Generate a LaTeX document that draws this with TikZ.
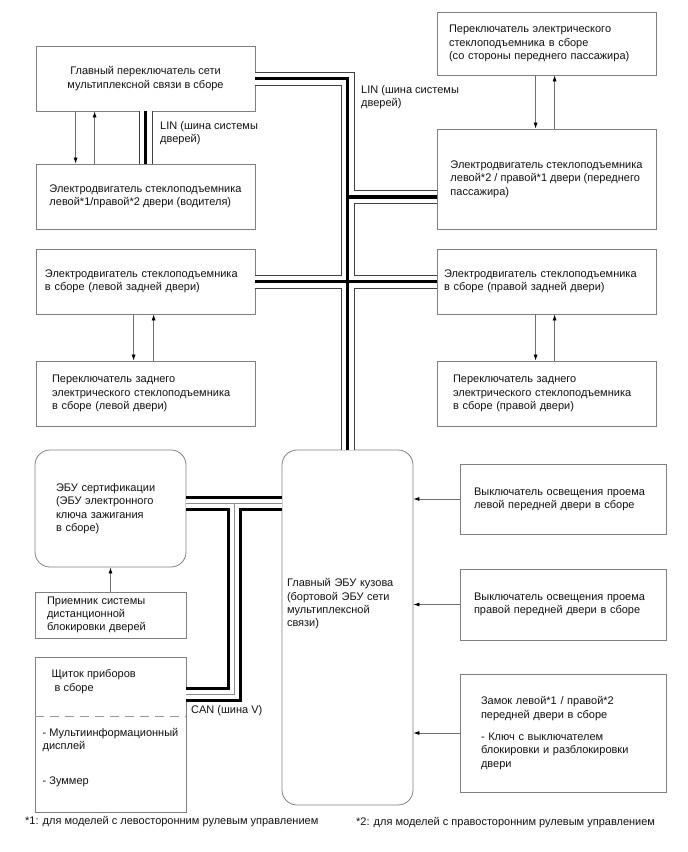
\documentclass[tikz,border=0pt]{standalone}
\usepackage{fontspec}
\setmainfont{Liberation Sans}
\usetikzlibrary{calc,arrows.meta}
\definecolor{boxgray}{HTML}{808080}
\definecolor{txtdark}{HTML}{111111}
\definecolor{linegray}{HTML}{707070}

\begin{document}
\begin{tikzpicture}[x=1pt, y=-1pt,
    every node/.style={font=\fontsize{11}{13.3}\selectfont, text=txtdark},
    unit/.style={draw=boxgray, line width=0.8pt, inner sep=0pt, align=left,
                 minimum width=219pt, minimum height=65pt},
    sidebox/.style={unit, minimum width=206pt},
    lowbox/.style={unit, minimum width=151pt},
    lbl/.style={inner sep=0pt, align=left},
    sig/.style={-{Latex[length=6pt, width=4pt, color=black]}, draw=linegray, line width=0.7pt},
    divider/.style={draw=black!40, line width=0.8pt, dash pattern=on 9pt off 6pt}
  ]
    \useasboundingbox (0,0) rectangle (688,852);

    % door units
    \node[unit, align=center] (mps) at (145.5,78.5) {Главный переключатель сети\\мультиплексной связи в сборе};
    \node[unit] (dmot) at (145.5,196.5) {Электродвигатель стеклоподъемника\\левой*1/правой*2 двери (водителя)};
    \node[unit, minimum height=63pt, text width=195pt] (psw) at (546.5,43.5) {Переключатель электрического\\стеклоподъемника в сборе\\(со стороны переднего пассажира)};
    \node[unit, minimum height=100pt] (pmot) at (546.5,179) {Электродвигатель стеклоподъемника\\левой*2 / правой*1 двери (переднего\\пассажира)};
    \node[unit, text width=201pt] (lrmot) at (145.5,281.5) {Электродвигатель стеклоподъемника\\в сборе (левой задней двери)};
    \node[unit, text width=187pt] (lrsw)  at (145.5,393.5) {Переключатель заднего\\электрического стеклоподъемника\\в сборе (левой двери)};
    \node[unit, text width=205pt] (rrmot) at (546.5,281.5) {Электродвигатель стеклоподъемника\\в сборе (правой задней двери)};
    \node[unit, text width=187pt] (rrsw)  at (546.5,393.5) {Переключатель заднего\\электрического стеклоподъемника\\в сборе (правой двери)};

    % body side
    \node[lowbox, rounded corners=15pt, minimum height=117pt, text width=109pt] (cert) at (110.5,508.5) {ЭБУ сертификации\\(ЭБУ электронного\\ключа зажигания\\в сборе)};
    \node[lowbox, minimum height=46pt, text width=127pt] (rcv) at (110.5,615) {Приемник системы\\дистанционной\\блокировки дверей};
    \node[lowbox, minimum height=155pt] (inst) at (110.5,734.5) {\hspace*{9pt}Щиток приборов\\\hspace*{12pt}в сборе\\[32pt]- Мультиинформационный\\дисплей\\[22pt]- Зуммер\\[1pt]\mbox{}};
    \node[unit, rounded corners=15pt, minimum width=131pt, minimum height=355pt, text width=121pt] (ecu) at (347.5,627.5) {Главный ЭБУ кузова\\(бортовой ЭБУ сети\\мультиплексной\\связи)\\[36pt]\mbox{}};
    \node[sidebox, minimum height=70pt, text width=178pt] (lsw) at (563,499) {Выключатель освещения проема\\левой передней двери в сборе};
    \node[sidebox, minimum height=71pt, text width=178pt] (rsw) at (563,604.5) {Выключатель освещения проема\\правой передней двери в сборе};
    \node[sidebox, minimum height=118pt, text width=164pt] (lock) at (563,733) {Замок левой*1 / правой*2\\передней двери в сборе\\[9pt]- Ключ с выключателем\\блокировки и разблокировки\\двери};

    \draw[divider] ($(inst.north west)+(0,60)$) -- ($(inst.north east)+(0,60)$);

    % LIN bus
    \coordinate (lin2) at ($(pmot.west)+(0,18)$);
    \foreach \w/\c in {14pt/black!75, 12pt/white, 3.6pt/black}
      \draw[line width=\w, draw=\c] (mps.east) -| (ecu.north)
        (lin2 -| ecu.north) -- (lin2)
        (lrmot.east) -- (rrmot.west)
        (mps.south) -- (dmot.north);

    % CAN bus
    \coordinate (canA) at ($(cert.east)+(0,-5)$);
    \coordinate (canT) at ($(canA)!.5!(canA -| ecu.west)$);
    \coordinate (canB) at ($(inst.north east)+(0,38)$);
    \foreach \w/\c in {15pt/black, 9pt/white, 1pt/black!45}
      \draw[line width=\w, draw=\c] (canA) -- (canA -| ecu.west) (canT) |- (canB);

    \node[lbl, anchor=north west] (linL) at (160,121.5) {LIN (шина системы\\дверей)};
    \node[lbl, anchor=north west] (linR) at (361,85.5) {LIN (шина системы\\дверей)};
    \node[lbl, anchor=north west] (canlbl) at (191,705.5) {CAN (шина V)};

    % switch <-> motor pairs
    \foreach \a/\b/\dx/\ux in {mps/dmot/40pt/59pt, psw/pmot/99pt/118pt, lrmot/lrsw/98pt/118pt, rrmot/rrsw/99pt/118pt} {
      \draw[sig] ([xshift=\dx]\a.south west) -- ([xshift=\dx]\b.north west);
      \draw[sig] ([xshift=\ux]\b.north west) -- ([xshift=\ux]\a.south west);
    }

    \draw[sig] (rcv.north) -- (cert.south);
    \foreach \s in {lsw, rsw, lock}
      \draw[sig] (\s.west) -- (\s.west -| ecu.east);

    % notes
    \node[lbl, anchor=west] (fn1) at (25,822) {*1: для моделей с левосторонним рулевым управлением};
    \node[lbl, anchor=west] (fn2) at (356,823) {*2: для моделей с правосторонним рулевым управлением};
  \end{tikzpicture}
\end{document}
